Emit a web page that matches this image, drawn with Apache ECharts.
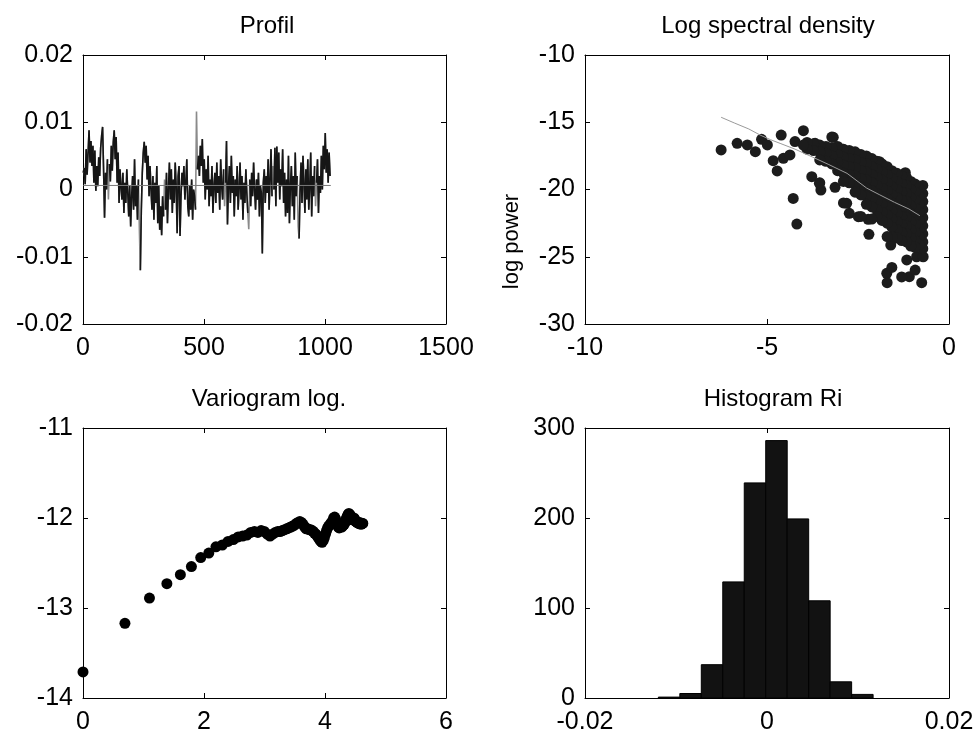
<!DOCTYPE html>
<html>
<head>
<meta charset="utf-8">
<script src="https://cdn.jsdelivr.net/npm/echarts@6/dist/echarts.min.js"></script>
<style>
html,body{margin:0;padding:0;background:#fff;}
#chart{width:978px;height:736px;}
</style>
</head>
<body>
<div id="chart"></div>
<script>
// ---------- Panel 1: Profil (values in units of 1e-3, sample step 4) ----------
const profileStep = 4;
const profileMilli = [
  2.5, 3.2, 0.8, 6.0, 2.2, 5.5, 8.8, 4.0, 7.2, 3.5,
  6.5, 1.0, 5.8, -0.2, 3.5, 0.5, 4.8, 2.0, 6.2, 8.0,
  9.3, 3.0, -4.2, 2.5, 0.0, 4.5, -1.5, 3.8, 1.2, 6.5,
  2.8, 7.0, 8.8, 4.5, 7.8, 1.0, 5.5, -2.0, 3.0, 0.5,
  -1.5, 2.5, -3.5, 1.0, -2.0, 3.0, -0.5, -4.0, 0.5, -5.5,
  -1.0, 2.0, -3.0, 4.5, -2.5, 0.5, -4.5, 1.5, -6.0, -12.0,
  -3.0, 2.5, 5.5, 7.1, 4.0, 6.5, 1.5, 5.0, -1.0, 3.5,
  0.0, -3.0, 2.0, -4.5, 1.0, -2.0, 3.5, -5.0, 0.5, -6.0,
  -2.5, -6.8, -1.0, -4.0, 1.5, -3.0, 2.5, -5.0, 0.0, 4.0,
  -1.5, 3.0, -3.5, 1.5, -2.0, 4.0, 0.5, -6.5, 2.0, 3.5,
  -6.9, -1.0, 2.5, 0.5, 3.5, -1.5, 1.0, 4.5, -2.5, -4.0,
  0.5, -3.0, 1.5, -4.5, 0.0, -1.0, -3.0, 11.6, 3.0, 5.0,
  2.0, 6.5, 3.5, 7.5, 1.0, 4.5, -1.5, 3.0, 0.0, 5.0,
  -2.5, 1.5, -1.0, 3.5, -3.5, 0.5, 2.5, -2.0, 4.0, -0.5,
  2.0, -3.0, 4.5, 0.5, -1.5, 3.0, -2.5, 1.0, 7.2, -5.2,
  0.5, 3.5, -2.0, 5.0, -0.5, 2.0, -4.0, 1.5, -1.0, 3.5,
  -3.0, 0.0, 4.0, -1.5, 2.0, -4.5, 1.0, -2.0, 3.0, -0.5,
  -3.5, -5.9, 1.5, -2.5, 2.5, -1.0, 4.0, 0.0, -3.0, 1.5,
  -1.5, 2.5, -4.0, 0.5, -0.5, -9.5, 1.0, 3.0, -2.0, 2.0,
  -0.5, 4.5, -3.0, 1.5, 6.0, -1.0, 3.5, 0.0, 6.2, -2.5,
  6.4, 1.0, 5.5, -1.5, 3.0, 0.5, 6.0, -2.0, 2.5, -4.0,
  1.5, -3.5, 5.0, -5.0, 0.5, 3.5, -2.5, 2.0, -4.5, 5.5,
  -1.0, 2.0, -5.5, -7.3, 0.0, 4.0, -2.0, 5.0, 1.0, -3.5,
  3.0, -1.5, 4.5, -3.0, 0.5, 5.5, -4.0, 2.0, -1.0, 3.5,
  -2.5, 1.0, 4.5, -3.5, 2.0, -0.5, 5.0, 0.0, 6.5, 3.0,
  8.4, 2.5, 6.0, 1.0, 5.5, 2.0
];
// indices where the underlying grey trace is left visible
const profileGreyIdx = [26, 58, 84, 117, 146, 171, 196, 222, 240];
const profileMean = 0.0006;
const profileMeanRange = [1, 1024];

// ---------- Panel 2: Log spectral density ----------
const spectrumPoints = [
  [-6.26,-17.06],[-5.82,-16.57],[-5.54,-16.69],[-5.32,-17.19],[-5.15,-16.27],[-4.99,-16.69],
  [-4.83,-17.86],[-4.72,-18.62],[-4.61,-15.95],[-4.55,-17.68],[-4.37,-17.43],[-4.28,-20.66],
  [-4.18,-22.57],[-4.23,-16.44],[-4.00,-15.63],[-3.96,-16.69],[-3.77,-19.05],[-3.68,-16.57],
  [-3.56,-19.54],[-3.52,-20.04],[-3.18,-16.12],[-3.13,-19.84],[-2.92,-17.01],[-2.81,-21.03],
  [-2.74,-21.77],[-2.49,-22.02],[-2.22,-22.22],[-2.20,-23.33],[-1.91,-17.93],[-1.71,-26.23],
  [-1.70,-26.93],[-1.57,-25.79],[-1.53,-23.55],[-1.60,-24.13],[-1.20,-18.75],[-1.16,-25.24],
  [-1.09,-26.48],[-0.93,-25.99],[-0.89,-25.00],[-0.75,-26.93],[-0.71,-25.00],
  [-0.72,-19.7],[-0.72,-20.3],[-0.72,-20.9],[-0.72,-21.5],[-0.72,-22.1],[-0.72,-22.7],[-0.72,-23.3],[-0.72,-23.9],[-0.72,-24.4],
  [-0.82,-19.9],[-0.82,-20.5],[-0.82,-21.1],[-0.82,-21.7],[-0.82,-22.3],[-0.82,-22.9],[-0.82,-23.5],[-0.82,-24.1],
  [-0.93,-19.6],[-0.93,-20.2],[-0.93,-20.8],[-0.93,-21.4],[-0.93,-22.0],[-0.93,-22.6],[-0.93,-23.2],[-0.93,-23.8],[-0.93,-24.3],
  [-1.05,-19.4],[-1.05,-20.0],[-1.05,-20.6],[-1.05,-21.2],[-1.05,-21.8],[-1.05,-22.4],[-1.05,-23.0],[-1.05,-23.6],[-1.05,-24.2],
  [-1.17,-19.1],[-1.17,-19.7],[-1.17,-20.3],[-1.17,-20.9],[-1.17,-21.5],[-1.17,-22.1],[-1.17,-22.7],[-1.17,-23.3],[-1.17,-23.9],
  [-1.30,-19.0],[-1.30,-19.6],[-1.30,-20.2],[-1.30,-20.8],[-1.30,-21.4],[-1.30,-22.0],[-1.30,-22.6],[-1.30,-23.2],[-1.30,-23.8],[-1.30,-26.5],
  [-1.43,-18.8],[-1.43,-19.4],[-1.43,-20.0],[-1.43,-20.6],[-1.43,-21.2],[-1.43,-21.8],[-1.43,-22.4],[-1.43,-23.0],[-1.43,-23.6],
  [-1.57,-18.6],[-1.57,-19.2],[-1.57,-19.8],[-1.57,-20.4],[-1.57,-21.0],[-1.57,-21.6],[-1.57,-22.2],[-1.57,-22.8],[-1.57,-23.5],
  [-1.70,-18.3],[-1.70,-18.9],[-1.70,-19.5],[-1.70,-20.1],[-1.70,-20.7],[-1.70,-21.3],[-1.70,-21.9],[-1.70,-22.5],[-1.70,-23.5],
  [-1.84,-18.1],[-1.84,-18.7],[-1.84,-19.3],[-1.84,-19.9],[-1.84,-20.5],[-1.84,-21.1],[-1.84,-21.7],[-1.84,-22.3],
  [-1.98,-17.9],[-1.98,-18.5],[-1.98,-19.1],[-1.98,-19.7],[-1.98,-20.3],[-1.98,-20.9],[-1.98,-21.5],[-1.98,-22.0],
  [-2.12,-17.7],[-2.12,-18.3],[-2.12,-18.9],[-2.12,-19.5],[-2.12,-20.1],[-2.12,-20.7],[-2.12,-21.3],[-2.12,-22.2],
  [-2.27,-17.5],[-2.27,-18.1],[-2.27,-18.7],[-2.27,-19.3],[-2.27,-19.9],[-2.27,-20.5],[-2.27,-21.1],
  [-2.42,-17.4],[-2.42,-18.0],[-2.42,-18.6],[-2.42,-19.2],[-2.42,-19.8],[-2.42,-20.4],[-2.42,-22.0],
  [-2.58,-17.2],[-2.58,-17.8],[-2.58,-18.4],[-2.58,-19.0],[-2.58,-19.6],[-2.58,-20.2],
  [-2.74,-17.1],[-2.74,-17.7],[-2.74,-18.3],[-2.74,-18.9],[-2.74,-19.5],
  [-2.90,-17.0],[-2.90,-17.6],[-2.90,-18.2],[-2.90,-18.8],[-2.90,-19.4],[-2.90,-21.0],
  [-3.06,-16.8],[-3.06,-17.4],[-3.06,-18.0],[-3.06,-18.6],
  [-3.22,-16.9],[-3.22,-17.5],[-3.22,-18.1],[-3.22,-16.1],
  [-3.38,-16.8],[-3.38,-17.3],[-3.38,-17.9],
  [-3.55,-16.7],[-3.55,-17.2],[-3.55,-17.8],[-3.55,-19.5],
  [-3.72,-16.6],[-3.72,-17.1],[-3.90,-16.5],[-3.90,-17.0],[-4.00,-16.7]
];
const spectrumFit = [
  [-6.26,-14.63],[-5.9,-15.05],[-5.5,-15.5],[-5.19,-15.95],[-4.9,-16.3],[-4.64,-16.57],
  [-4.23,-17.0],[-3.74,-17.6],[-3.3,-18.15],[-2.8,-18.8],[-2.26,-19.9],[-1.9,-20.4],
  [-1.5,-20.95],[-1.1,-21.45],[-0.8,-21.95]
];

// ---------- Panel 3: Variogram log. (x = ln(lag)) ----------
const varioLagCount = 102;
const varioY = [
  -13.71,-13.17,-12.89,-12.73,-12.63,-12.54,-12.44,-12.39,-12.32,-12.30,
  -12.26,-12.24,-12.21,-12.20,-12.19,-12.16,-12.15,-12.16,-12.14,-12.15,
  -12.18,-12.20,-12.18,-12.16,-12.15,-12.15,-12.14,-12.13,-12.12,-12.11,
  -12.10,-12.09,-12.08,-12.06,-12.05,-12.04,-12.05,-12.07,-12.10,-12.12,
  -12.12,-12.13,-12.13,-12.14,-12.15,-12.17,-12.18,-12.20,-12.22,-12.24,
  -12.26,-12.27,-12.25,-12.22,-12.18,-12.14,-12.11,-12.09,-12.08,-12.06,
  -12.05,-12.03,-12.00,-11.99,-12.01,-12.05,-12.08,-12.10,-12.11,-12.10,
  -12.09,-12.10,-12.09,-12.08,-12.07,-12.05,-12.02,-12.00,-11.98,-11.96,
  -11.95,-11.96,-11.97,-11.99,-12.01,-12.02,-12.01,-12.00,-12.01,-12.03,
  -12.04,-12.04,-12.05,-12.05,-12.06,-12.06,-12.05,-12.06,-12.07,-12.06,
  -12.06,-12.06
];

// ---------- Panel 4: Histogram Ri ----------
const histEdges = [-0.01194,-0.00958,-0.00722,-0.00486,-0.00250,-0.00014,0.00222,0.00458,0.00694,0.00930,0.01166];
const histCounts = [1, 5, 37, 129, 239, 286, 199, 108, 18, 4];

// ---------- tick settings ----------
const ticksProfileX = {min: 0, max: 1500, interval: 500};
const ticksProfileY = {min: -0.02, max: 0.02, interval: 0.01};
const ticksSpecX = {min: -10, max: 0, interval: 5};
const ticksSpecY = {min: -30, max: -10, interval: 5};
const ticksVarioX = {min: 0, max: 6, interval: 2};
const ticksVarioY = {min: -14, max: -11, interval: 1};
const ticksHistX = {min: -0.02, max: 0.02, interval: 0.02};
const ticksHistY = {min: 0, max: 300, interval: 100};

const FONT = 'Liberation Sans, Arial, sans-serif';
const FS_TICK = 25;
const FS_TITLE = 24;
const FS_NAME = 22;

function fmt(v) {
  const r = Math.round(v * 1e6) / 1e6;
  return String(r);
}

function xAxisPair(g, t) {
  const base = {
    type: 'value', gridIndex: g, min: t.min, max: t.max, interval: t.interval,
    splitLine: {show: false},
    axisLine: {show: true, onZero: false, lineStyle: {color: '#000', width: 1}},
    axisTick: {show: true, inside: true, length: 5, lineStyle: {color: '#000', width: 1}}
  };
  return [
    Object.assign({}, base, {position: 'bottom',
      axisLabel: {show: true, color: '#000', fontSize: FS_TICK, fontFamily: FONT, margin: 12, formatter: fmt}}),
    Object.assign({}, base, {position: 'top', axisLabel: {show: false}})
  ];
}
function yAxisPair(g, t, name) {
  const base = {
    type: 'value', gridIndex: g, min: t.min, max: t.max, interval: t.interval,
    splitLine: {show: false},
    axisLine: {show: true, onZero: false, lineStyle: {color: '#000', width: 1}},
    axisTick: {show: true, inside: true, length: 5, lineStyle: {color: '#000', width: 1}}
  };
  const left = Object.assign({}, base, {position: 'left',
      axisLabel: {show: true, color: '#000', fontSize: FS_TICK, fontFamily: FONT, margin: 10, formatter: fmt}});
  if (name) {
    left.name = name;
    left.nameLocation = 'middle';
    left.nameGap = 62;
    left.nameTextStyle = {color: '#000', fontSize: FS_NAME, fontFamily: FONT, padding: [0, 104, 0, 0]};
  }
  return [left, Object.assign({}, base, {position: 'right', axisLabel: {show: false}})];
}

const grids = [
  {left: 83, top: 55, width: 363, height: 269},
  {left: 585, top: 55, width: 364, height: 269},
  {left: 83, top: 428, width: 363, height: 270},
  {left: 585, top: 428, width: 364, height: 270}
];

const profileData = profileMilli.map((v, i) => [1 + i * profileStep, v / 1000]);
const profileBlack = profileData.map((p, i) => profileGreyIdx.includes(i) ? [p[0], null] : p);
const varioData = varioY.map((y, i) => [Math.log(i + 1), y]);
const histData = histCounts.map((c, i) => [histEdges[i], histEdges[i + 1], c]);

const titleStyle = {color: '#000', fontSize: FS_TITLE, fontFamily: FONT, fontWeight: 'normal'};
const option = {
  animation: false,
  backgroundColor: '#fff',
  title: [
    {text: 'Profil', left: 262, top: 9, textAlign: 'center', textStyle: titleStyle},
    {text: 'Log spectral density', left: 763, top: 9, textAlign: 'center', textStyle: titleStyle},
    {text: 'Variogram log.', left: 264, top: 382, textAlign: 'center', textStyle: titleStyle},
    {text: 'Histogram Ri', left: 768, top: 382, textAlign: 'center', textStyle: titleStyle}
  ],
  grid: grids,
  xAxis: [].concat(xAxisPair(0, ticksProfileX), xAxisPair(1, ticksSpecX), xAxisPair(2, ticksVarioX), xAxisPair(3, ticksHistX)),
  yAxis: [].concat(yAxisPair(0, ticksProfileY), yAxisPair(1, ticksSpecY, 'log power'), yAxisPair(2, ticksVarioY), yAxisPair(3, ticksHistY)),
  series: [
    {type: 'line', xAxisIndex: 0, yAxisIndex: 0, data: profileData, showSymbol: false, silent: true,
      lineStyle: {color: '#8a8a8a', width: 1.6}, z: 2},
    {type: 'line', xAxisIndex: 0, yAxisIndex: 0, data: profileBlack, showSymbol: false, silent: true,
      connectNulls: false, lineStyle: {color: '#161616', width: 1.6}, z: 3},
    {type: 'line', xAxisIndex: 0, yAxisIndex: 0,
      data: [[profileMeanRange[0], profileMean], [profileMeanRange[1], profileMean]],
      showSymbol: false, silent: true, lineStyle: {color: '#7a7a7a', width: 1}, z: 4},
    {type: 'scatter', xAxisIndex: 2, yAxisIndex: 2, data: spectrumPoints, symbolSize: 11,
      itemStyle: {color: '#1c1c1c', opacity: 1}, silent: true, z: 2},
    {type: 'line', xAxisIndex: 2, yAxisIndex: 2, data: spectrumFit, showSymbol: false, silent: true,
      lineStyle: {color: '#9a9a9a', width: 1}, z: 3},
    {type: 'scatter', xAxisIndex: 4, yAxisIndex: 4, data: varioData, symbolSize: 11,
      itemStyle: {color: '#000', opacity: 1}, silent: true},
    {type: 'custom', xAxisIndex: 6, yAxisIndex: 6, data: histData, silent: true,
      renderItem: function (params, api) {
        const p0 = api.coord([api.value(0), 0]);
        const p1 = api.coord([api.value(1), api.value(2)]);
        return {type: 'rect', shape: {x: p0[0], y: p1[1], width: p1[0] - p0[0], height: p0[1] - p1[1]},
          style: {fill: '#121212', stroke: '#000', lineWidth: 1}};
      },
      encode: {x: [0, 1], y: 2}}
  ]
};

const chart = echarts.init(document.getElementById('chart'), null, {renderer: 'canvas'});
chart.setOption(option);
</script>
</body>
</html>
